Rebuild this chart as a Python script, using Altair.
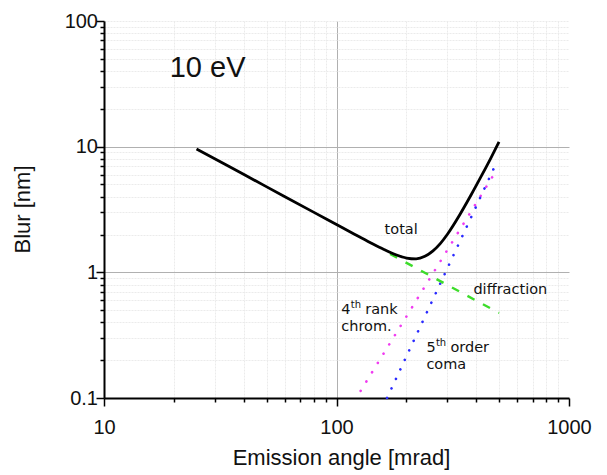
import altair as alt
import pandas as pd

# ---- data ----
angle_total = [25, 40, 60, 80, 100, 120, 140, 160, 180, 200, 220, 240, 260, 280, 300, 340, 380, 420, 460, 500]
blur_total = [9.6, 6.0, 4.0, 3.0, 2.4, 2.0, 1.72, 1.52, 1.38, 1.30, 1.28, 1.34, 1.48, 1.70, 2.01, 2.90, 4.16, 5.85, 8.04, 10.9]

angle_diffraction = [170, 500]
blur_diffraction = [1.40, 0.475]

angle_chrom = [127, 480]
blur_chrom = [0.114, 6.2]

angle_coma = [165, 490]
blur_coma = [0.10, 7.6]

x_ticks = [10, 20, 30, 40, 50, 60, 70, 80, 90, 100, 200, 300, 400, 500, 600, 700, 800, 900, 1000]
y_ticks = [0.1, 0.2, 0.3, 0.4, 0.5, 0.6, 0.7, 0.8, 0.9, 1, 2, 3, 4, 5, 6, 7, 8, 9,
           10, 20, 30, 40, 50, 60, 70, 80, 90, 100]

label_text = ["total", "diffraction", "4", "chrom.", "5", "coma"]
label_angle = [161, 388, 104.8, 104.8, 243.6, 243.6]
label_blur = [2.17, 0.724, 0.502, 0.370, 0.249, 0.183]

word_text = ["rank", "order"]
word_angle = [104.8, 243.6]
word_blur = [0.502, 0.249]

sup_text = ["th", "th"]
sup_angle = [104.8, 243.6]
sup_blur = [0.502, 0.249]

head_text = ["10 eV"]
head_angle = [27.9]
head_blur = [42.3]


def df(a, b, t=None):
    d = pd.DataFrame({"angle": a, "blur": b})
    if t is not None:
        d["text"] = t
    return d


xmajor = "datum.value == 10 || datum.value == 100 || datum.value == 1000"
ymajor = "datum.value == 0.1 || datum.value == 1 || datum.value == 10 || datum.value == 100"

x_axis = alt.Axis(
    values=x_ticks,
    grid=True,
    gridColor={"condition": [{"test": "datum.value == 1000", "value": "transparent"},
                             {"test": "datum.value == 100", "value": "#b0b0b0"}],
               "value": "#ebebeb"},
    gridDash={"condition": {"test": "datum.value == 100", "value": []}, "value": [2, 1]},
    tickSize={"condition": {"test": xmajor, "value": 8}, "value": 4},
    labelExpr="(" + xmajor + ") ? format(datum.value, '~g') : ''",
    labelOverlap=False,
    labelBound=False,
    labelFlush=False,
    labelPadding=11.5,
    title="Emission angle [mrad]",
    titleX=237,
    titleY=59,
    titleBaseline="middle",
    titleAlign="center",
)

y_axis = alt.Axis(
    values=y_ticks,
    grid=True,
    gridColor={"condition": [{"test": "datum.value == 1 || datum.value == 10", "value": "#b0b0b0"}],
               "value": "#ebebeb"},
    gridDash={"condition": {"test": "datum.value == 1 || datum.value == 10", "value": []}, "value": [2, 1]},
    tickSize={"condition": {"test": ymajor, "value": 8}, "value": 4},
    labelExpr="(" + ymajor + ") ? format(datum.value, '~g') : ''",
    labelOverlap=False,
    labelBound=False,
    labelFlush=False,
    labelPadding=-1.5,
    title="Blur [nm]",
    titleX=-82,
    titleY=188,
    titleAngle=-90,
    titleBaseline="middle",
    titleAlign="center",
)

x_enc = alt.X("angle:Q", scale=alt.Scale(type="log", domain=[10, 1000], nice=False), axis=x_axis)
y_enc = alt.Y("blur:Q", scale=alt.Scale(type="log", domain=[0.1, 100], nice=False), axis=y_axis)

chrom = alt.Chart(df(angle_chrom, blur_chrom)).mark_line(
    color="#f03cf0", strokeWidth=2.6, strokeDash=[0.1, 10.8], strokeCap="round"
).encode(x=x_enc, y=y_enc)

coma = alt.Chart(df(angle_coma, blur_coma)).mark_line(
    color="#2a2aff", strokeWidth=2.6, strokeDash=[0.1, 10.4], strokeCap="round"
).encode(x=x_enc, y=y_enc)

diffraction = alt.Chart(df(angle_diffraction, blur_diffraction)).mark_line(
    color="#3ddc2a", strokeWidth=2.4, strokeDash=[8, 9.6]
).encode(x=x_enc, y=y_enc)

total = alt.Chart(df(angle_total, blur_total)).mark_line(
    color="#000000", strokeWidth=2.8, interpolate="monotone"
).encode(x=x_enc, y=y_enc)

labels = alt.Chart(df(label_angle, label_blur, label_text)).mark_text(
    font="DejaVu Sans", fontSize=14.5, align="left", baseline="middle", color="#111111"
).encode(x=x_enc, y=y_enc, text="text:N")

words = alt.Chart(df(word_angle, word_blur, word_text)).mark_text(
    font="DejaVu Sans", fontSize=14.5, align="left", baseline="middle", color="#111111", dx=24
).encode(x=x_enc, y=y_enc, text="text:N")

sups = alt.Chart(df(sup_angle, sup_blur, sup_text)).mark_text(
    font="DejaVu Sans", fontSize=10, align="left", baseline="middle", color="#111111", dx=9.5, dy=-5
).encode(x=x_enc, y=y_enc, text="text:N")

head = alt.Chart(df(head_angle, head_blur, head_text)).mark_text(
    font="Liberation Sans", fontSize=29, align="center", baseline="middle", color="#111111"
).encode(x=x_enc, y=y_enc, text="text:N")

chart = alt.layer(chrom, coma, diffraction, total, labels, words, sups, head).properties(
    width=465,
    height=377,
    autosize=alt.AutoSizeParams(type="none"),
    padding={"left": 104, "top": 21, "right": 38, "bottom": 77},
    background="white",
).configure_view(strokeWidth=0).configure_axis(
    domainColor="#000000",
    domainWidth=2,
    tickColor="#000000",
    tickWidth=1.5,
    labelFont="Liberation Sans",
    labelFontSize=20,
    labelColor="#111111",
    titleFont="Liberation Sans",
    titleFontSize=22,
    titleFontWeight="normal",
    titleColor="#111111",
)

chart.save("out.html", embed_options={"renderer": "svg", "actions": False})
